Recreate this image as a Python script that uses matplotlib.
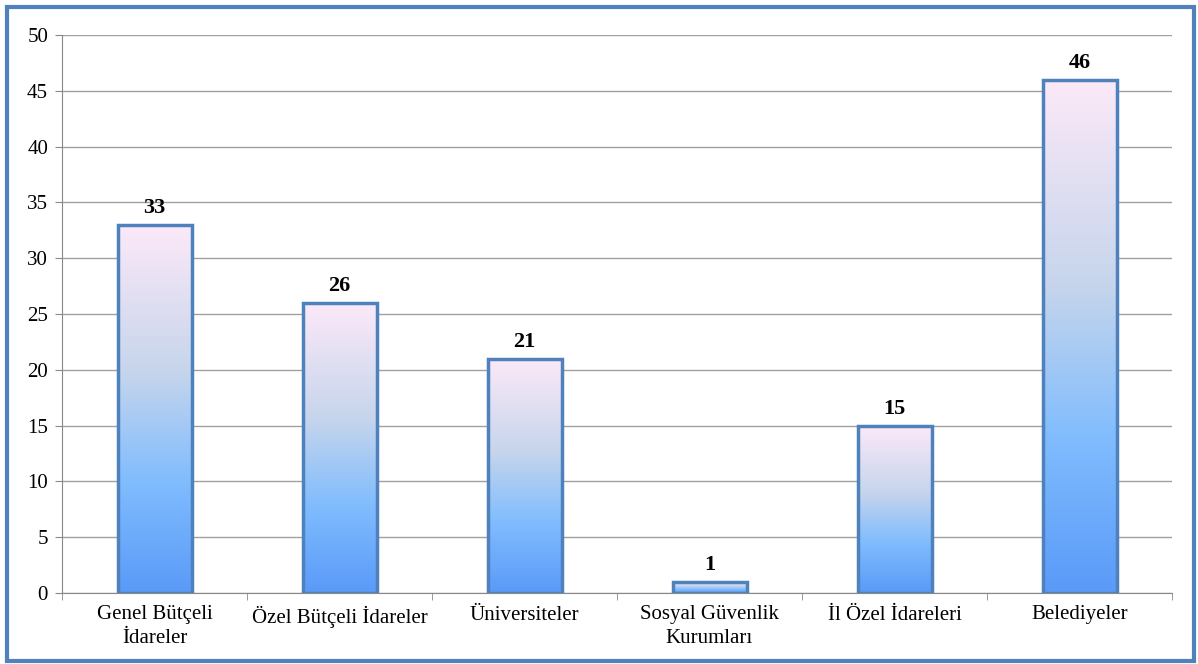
import matplotlib
matplotlib.use("Agg")
import matplotlib.pyplot as plt
import numpy as np
from matplotlib.colors import LinearSegmentedColormap
from matplotlib.patches import Rectangle

categories = ["Genel Bütçeli\nİdareler", "Özel Bütçeli İdareler", "Üniversiteler",
              "Sosyal Güvenlik\nKurumları", "İl Özel İdareleri", "Belediyeler"]
values = [33, 26, 21, 1, 15, 46]
yticks = [0, 5, 10, 15, 20, 25, 30, 35, 40, 45, 50]

plt.rcParams['font.family'] = ['Liberation Serif', 'DejaVu Serif']

fig = plt.figure(figsize=(11.98, 6.64), dpi=100)
ax = fig.add_axes([62/1198, 71/664, 1110/1198, 558/664])

cmap = LinearSegmentedColormap.from_list(
    "g", [(0.0, "#5a9af8"), (0.3, "#80bcfe"), (0.6, "#c6d5ec"), (1.0, "#fce9f8")])
grad = np.linspace(0, 1, 256).reshape(-1, 1)

x = np.arange(len(categories))
width = 0.4
bars = ax.bar(x, values, width=width, color="none", edgecolor="#4f81bd",
              linewidth=2.5, zorder=4)
for b, v in zip(bars, values):
    x0 = b.get_x()
    im = ax.imshow(grad, cmap=cmap, origin="lower", aspect="auto",
                   extent=[x0, x0 + b.get_width(), 0, v], zorder=3)
    clip = Rectangle((x0, 0), b.get_width(), v, transform=ax.transData)
    im.set_clip_path(clip)
    ax.annotate(str(v), (b.get_x() + b.get_width() / 2, v), xytext=(0, 5),
                textcoords="offset points", ha="center", va="bottom",
                fontsize=16, fontweight="bold", zorder=5)

ax.set_xlim(-0.5, len(categories) - 0.5)
ax.set_ylim(0, 50)
ax.set_yticks(yticks)
ax.set_yticklabels([str(t) for t in yticks], fontsize=15)
ax.set_xticks(x)
ax.set_xticklabels(categories, fontsize=15, linespacing=1.3)
ax.set_xticks(np.arange(-0.5, len(categories)), minor=True)
ax.tick_params(axis="x", which="major", length=0, pad=9)
ax.tick_params(axis="x", which="minor", length=5, color="#888888")
ax.tick_params(axis="y", length=5, color="#888888", pad=5)
ax.grid(axis="y", color="#a0a0a0", linewidth=1, zorder=0)
ax.set_axisbelow(True)
for s in ["top", "right"]:
    ax.spines[s].set_visible(False)
ax.spines["left"].set_color("#888888")
ax.spines["bottom"].set_color("#888888")

border = Rectangle((7/1198, 3/664), 1187/1198, 654/664, transform=fig.transFigure,
                   fill=False, edgecolor="#4f81bd", linewidth=3)
fig.add_artist(border)

fig.savefig("out.png", dpi=100)
